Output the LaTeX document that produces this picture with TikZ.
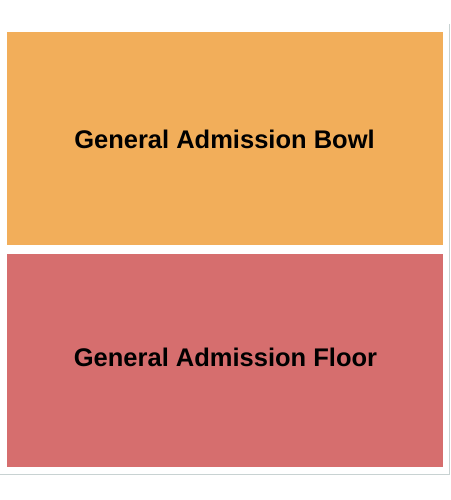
\documentclass[tikz,border=0pt]{standalone}
\usepackage{fontspec}
\setmainfont{Liberation Sans}
\definecolor{bowl}{RGB}{242,174,90}
\definecolor{floor}{RGB}{214,110,110}
\definecolor{frame}{RGB}{200,210,210}
\begin{document}
\begin{tikzpicture}[x=1pt,y=-1pt,
  section/.style={inner sep=0pt,outer sep=0pt,anchor=base},
  label/.style={font=\fontsize{25.5}{30}\selectfont\bfseries,text=black}]
\useasboundingbox[fill=white] (0,0) rectangle (450,500);
\fill[bowl] (7,32) rectangle (443,245);
\fill[floor] (7,254) rectangle (443,467);
\node[section,label] (bowl) at (224.5,148.5) {General Admission Bowl};
\node[section,label] (floor) at (225.5,366.5) {General Admission Floor};
\draw[frame,line width=0.8pt] (449,24) -- (449,474) -- (0,474);
\end{tikzpicture}
\end{document}
